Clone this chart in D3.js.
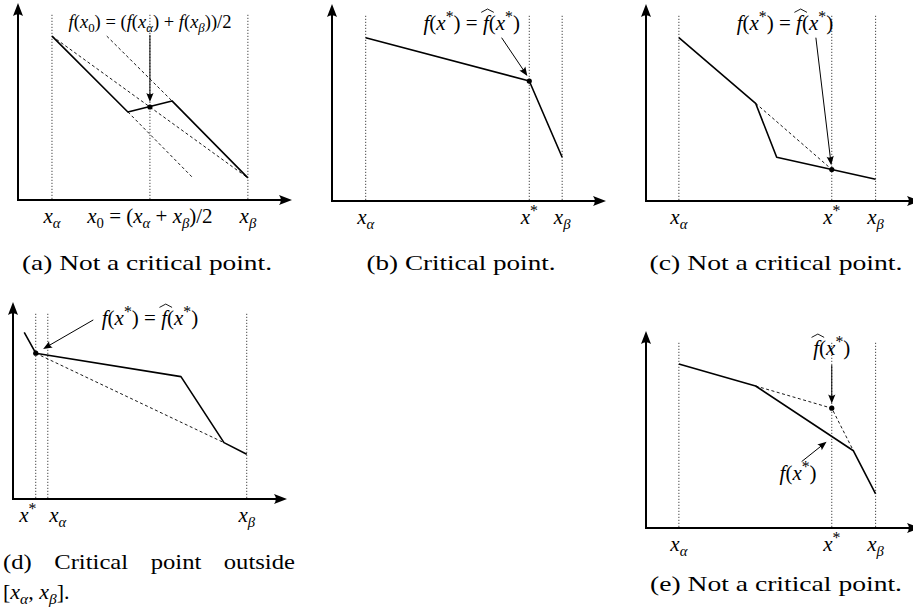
<!DOCTYPE html>
<html lang="en">
<head>
<meta charset="UTF-8">
<title>Critical point cases</title>
<script src="https://d3js.org/d3.v7.min.js"></script>
<style>
  body { margin: 0; background: #fff; }
  svg { display: block; }
  text { font-family: "Liberation Serif", serif; fill: #000; white-space: pre; }
  .curve { stroke: #000; stroke-width: 1.6; fill: none; stroke-linejoin: round; }
  .chord { stroke: #000; stroke-width: 0.9; stroke-dasharray: 3,2.5; fill: none; }
  .guide { stroke: #000; stroke-width: 0.9; stroke-dasharray: 1,2; fill: none; }
</style>
</head>
<body>
<script>
// values in abstract units, 0..10 on both axes of every panel
// marks: [label key, x]
const marksA = [["xa", 1.24], ["x0", 4.815], ["xb", 8.39]];
const curveA = [[1.24, 8.32], [4.01, 4.47], [5.62, 5.03], [8.39, 1.12]];
const dashA = [[[1.24, 8.32], [8.39, 1.12]], [[3.24, 8.32], [5.62, 5.03]], [[4.01, 4.47], [6.40, 1.10]]];
const pointA = [4.815, 4.72];

const marksB = [["xa", 1.23], ["xs", 7.20], ["xb", 8.40]];
const curveB = [[1.23, 8.29], [7.20, 6.09], [8.40, 2.22]];
const dashB = [];
const pointB = [7.20, 6.09];

const marksC = [["xa", 1.20], ["xs", 6.78], ["xb", 8.38]];
const curveC = [[1.20, 8.29], [4.00, 4.96], [4.77, 2.22], [8.38, 1.10]];
const dashC = [[[4.00, 4.96], [6.78, 1.60]]];
const pointC = [6.78, 1.60];

const marksD = [["xs", 0.83], ["xa", 1.27], ["xb", 8.53]];
const curveD = [[0.41, 8.46], [0.83, 7.40], [6.13, 6.21], [7.70, 2.86], [8.53, 2.27]];
const dashD = [[[0.83, 7.40], [7.70, 2.86]]];
const pointD = [0.83, 7.40];

const marksE = [["xa", 1.20], ["xs", 6.78], ["xb", 8.38]];
const curveE = [[1.20, 8.32], [4.00, 7.21], [7.57, 3.92], [8.38, 1.73]];
const dashE = [[[4.00, 7.21], [6.78, 6.08], [7.57, 3.92]]];
const pointE = [6.78, 6.08];

const captions = {
  a: "(a) Not a critical point.",
  b: "(b) Critical point.",
  c: "(c) Not a critical point.",
  d: "(d) Critical point outside",
  e: "(e) Not a critical point."
};

// math tokens: i = italic, r = roman, sub / subr = subscript, sup = superscript, hat = f with hat
const T = {
  xa: [["i", "x"], ["sub", "α"]],
  xb: [["i", "x"], ["sub", "β"]],
  xs: [["i", "x"], ["sup", "*"]],
  x0: [["i", "x"], ["subr", "0"], ["r", " = ("], ["i", "x"], ["sub", "α"], ["r", " + "], ["i", "x"], ["sub", "β"], ["r", ")/2"]],
  fmid: [["i", "f"], ["r", "("], ["i", "x"], ["subr", "0"], ["r", ") = ("], ["i", "f"], ["r", "("], ["i", "x"], ["sub", "α"],
         ["r", ") + "], ["i", "f"], ["r", "("], ["i", "x"], ["sub", "β"], ["r", "))/2"]],
  feq: [["i", "f"], ["r", "("], ["i", "x"], ["sup", "*"], ["r", ") = "], ["hat", "f"], ["r", "("], ["i", "x"], ["sup", "*"], ["r", ")"]],
  fhat: [["hat", "f"], ["r", "("], ["i", "x"], ["sup", "*"], ["r", ")"]],
  fx: [["i", "f"], ["r", "("], ["i", "x"], ["sup", "*"], ["r", ")"]],
  interval: [["r", "["], ["i", "x"], ["sub", "α"], ["r", ", "], ["i", "x"], ["sub", "β"], ["r", "]."]]
};

// annotations (data units): arrows [from, to], labels [key, x, y baseline, anchor, size]
const annotations = {
  a: { arrows: [[[4.815, 8.38], [4.815, 4.97]]], labels: [["fmid", 4.82, 8.73, "middle", 18.5]] },
  b: { arrows: [[[6.19, 8.29], [7.13, 6.35]]], labels: [["feq", 5.10, 8.68, "middle", 21]] },
  c: { arrows: [[[6.20, 8.29], [6.76, 1.82]]], labels: [["feq", 5.07, 8.68, "middle", 21]] },
  d: { arrows: [[[2.93, 9.09], [1.10, 7.62]]], labels: [["feq", 3.24, 8.83, "start", 21]] },
  e: { arrows: [[[6.78, 8.27], [6.78, 6.32]], [[5.68, 3.37], [6.59, 4.38]]],
       labels: [["fhat", 6.78, 8.78, "middle", 21], ["fx", 5.55, 2.44, "middle", 21]] }
};

// layout (pixels)
const W = 913, H = 613, PW = 274, PH = 197, CAP = 22;
const layout = {
  a: { ox: 18, oy: 200, capX: 147, capY: 270, capW: 250 },
  b: { ox: 332, oy: 201, capX: 461, capY: 270, capW: 189 },
  c: { ox: 646, oy: 201, capX: 776, capY: 270, capW: 253 },
  d: { ox: 13, oy: 499, capX: 3, capY: 569, capW: 292 },
  e: { ox: 646, oy: 528, capX: 776, capY: 591, capW: 252 }
};
const labelShift = { d: { xs: -8, xa: 10 } };

const svg = d3.select("body").append("svg")
  .attr("width", W)
  .attr("height", H);
svg.append("rect").attr("width", W).attr("height", H).attr("fill", "#fff");

function mathText(g, x, y, tokens, size, anchor) {
  const t = g.append("text")
    .attr("x", x)
    .attr("y", y)
    .attr("font-size", size)
    .attr("text-anchor", anchor || "middle");
  let shift = 0, idx = 0;
  const hats = [];
  tokens.forEach(([kind, s]) => {
    let target = 0, fs = size, style = "normal";
    if (kind === "i") style = "italic";
    if (kind === "sub") { target = 0.22 * size; fs = 0.7 * size; style = "italic"; }
    if (kind === "subr") { target = 0.22 * size; fs = 0.7 * size; }
    if (kind === "sup") { target = -0.36 * size; fs = 0.75 * size; }
    if (kind === "hat") { style = "italic"; hats.push(idx); }
    t.append("tspan")
      .attr("dy", target - shift)
      .attr("font-size", fs)
      .attr("font-style", style)
      .text(s);
    shift = target;
    idx += [...s].length;
  });
  hats.forEach(i => {
    const ext = t.node().getExtentOfChar(i);
    const cx = ext.x + ext.width / 2 + 0.08 * size;
    const hw = 0.3 * size;
    g.append("path")
      .attr("d", `M${cx - hw},${y - 0.84 * size} L${cx},${y - 1.0 * size} L${cx + hw},${y - 0.84 * size}`)
      .attr("fill", "none")
      .attr("stroke", "#000")
      .attr("stroke-width", 0.9);
  });
  return t;
}

function arrow(g, x1, y1, x2, y2, len, half, sw) {
  const a = Math.atan2(y2 - y1, x2 - x1);
  g.append("line")
    .attr("x1", x1).attr("y1", y1)
    .attr("x2", x2 - Math.cos(a) * len * 0.7)
    .attr("y2", y2 - Math.sin(a) * len * 0.7)
    .attr("stroke", "#000")
    .attr("stroke-width", sw);
  g.append("path")
    .attr("d", `M0,0 L${-len},${-half} Q${-len * 0.72},0 ${-len},${half} Z`)
    .attr("transform", `translate(${x2},${y2}) rotate(${a * 180 / Math.PI})`)
    .attr("fill", "#000");
}

function drawPanel(id, marks, curve, dashes, point) {
  const L = layout[id];
  const x = d3.scaleLinear().domain([0, 10]).range([L.ox, L.ox + PW]);
  const y = d3.scaleLinear().domain([0, 10]).range([L.oy, L.oy - PH]);
  const g = svg.append("g").attr("class", "panel-" + id);
  const line = d3.line().x(d => x(d[0])).y(d => y(d[1]));

  // dotted guides
  g.selectAll(".guide")
    .data(marks)
    .enter().append("line")
    .attr("class", "guide")
    .attr("x1", d => x(d[1])).attr("x2", d => x(d[1]))
    .attr("y1", y(9.4)).attr("y2", y(0));

  // dashed helpers
  g.selectAll(".chord")
    .data(dashes)
    .enter().append("path")
    .attr("class", "chord")
    .attr("d", line);

  // the function
  g.append("path")
    .datum(curve)
    .attr("class", "curve")
    .attr("d", line);

  // axes
  arrow(g, x(0), y(0) + 1, x(0), y(10), 13, 5, 2);
  arrow(g, x(0) - 1, y(0), x(10), y(0), 13, 5, 2);

  g.append("circle")
    .attr("cx", x(point[0]))
    .attr("cy", y(point[1]))
    .attr("r", 2.6)
    .attr("fill", "#000");

  // axis labels
  marks.forEach(([key, v]) => {
    const dx = (labelShift[id] && labelShift[id][key]) || 0;
    mathText(g, x(v) + dx, y(0) + 23, T[key], 21, "middle");
  });

  const ann = annotations[id];
  ann.arrows.forEach(([p, q]) => arrow(g, x(p[0]), y(p[1]), x(q[0]), y(q[1]), 9, 3.6, 1));
  ann.labels.forEach(([key, lx, ly, anchor, size]) => mathText(g, x(lx), y(ly), T[key], size, anchor));

  // caption
  if (id === "d") {
    const words = captions.d.split(" ");
    const widths = words.map(w => {
      const t = g.append("text").attr("font-size", CAP).text(w);
      const wd = t.node().getComputedTextLength() * 1.12;
      t.remove();
      return wd;
    });
    const gap = (L.capW - d3.sum(widths)) / (words.length - 1);
    let cx = L.capX;
    words.forEach((w, i) => {
      g.append("text")
        .attr("x", cx).attr("y", L.capY)
        .attr("font-size", CAP)
        .attr("textLength", widths[i])
        .attr("lengthAdjust", "spacingAndGlyphs")
        .text(w);
      cx += widths[i] + gap;
    });
    mathText(g, L.capX, L.capY + 30, T.interval, CAP, "start");
  } else {
    g.append("text")
      .attr("x", L.capX - L.capW / 2)
      .attr("y", L.capY)
      .attr("font-size", CAP)
      .attr("textLength", L.capW)
      .attr("lengthAdjust", "spacingAndGlyphs")
      .text(captions[id]);
  }
}

drawPanel("a", marksA, curveA, dashA, pointA);
drawPanel("b", marksB, curveB, dashB, pointB);
drawPanel("c", marksC, curveC, dashC, pointC);
drawPanel("d", marksD, curveD, dashD, pointD);
drawPanel("e", marksE, curveE, dashE, pointE);
</script>
</body>
</html>
